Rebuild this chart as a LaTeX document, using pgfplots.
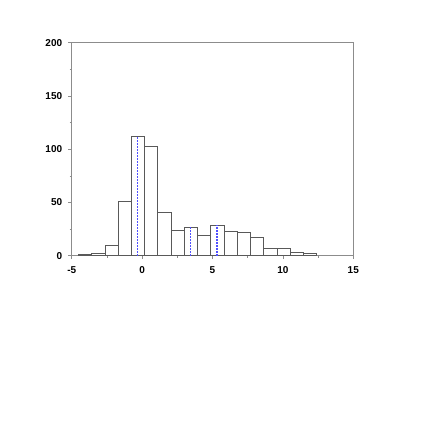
\documentclass[border=0pt]{standalone}
\usepackage{pgfplots}
\pgfplotsset{compat=1.18}
\usepackage{fontspec}
\setmainfont{Liberation Sans}
\definecolor{dashblue}{RGB}{80,80,255}
\begin{document}
\begin{tikzpicture}[x=1pt,y=1pt]
\path[use as bounding box] (0,0) rectangle (425,425);
\begin{axis}[
  at={(71.7pt,169.3pt)}, anchor=south west,
  scale only axis, width=281.6pt, height=213pt,
  xmin=-5, xmax=15, ymin=0, ymax=200,
  xtick={-5,0,5,10,15}, ytick={0,50,100,150,200},
  minor xtick={-2.5,2.5,7.5,12.5}, minor ytick={25,75,125,175},
  tick align=outside,
  xtick pos=bottom, ytick pos=left,
  major tick length=3.5pt, minor tick length=2pt,
  axis line style={draw=black!45, line width=0.6pt},
  every tick/.style={draw=black!45, line width=0.6pt},
  tick label style={font=\fontsize{10}{11}\selectfont\bfseries},
  /pgf/number format/assume math mode=true,
  xticklabel style={yshift=-4pt},
  yticklabel style={xshift=-2.5pt},
  clip=false,
]
\addplot[ybar interval, fill=white, draw=black!65, line width=0.5pt] coordinates {
(-4.53,1) (-3.59,2) (-2.65,10) (-1.71,51) (-0.77,112) (0.17,103) (1.11,41)
(2.05,24) (2.99,27) (3.93,19) (4.87,29) (5.81,23) (6.75,22) (7.69,17)
(8.63,7) (9.57,7) (10.51,3) (11.45,2) (12.39,0)
};
\addplot[ycomb, no marks, draw=dashblue, line width=1.1pt, dash pattern=on 1.6pt off 1.4pt] coordinates {(-0.30,112) (3.42,27) (5.32,29)};
\end{axis}
\end{tikzpicture}
\end{document}
